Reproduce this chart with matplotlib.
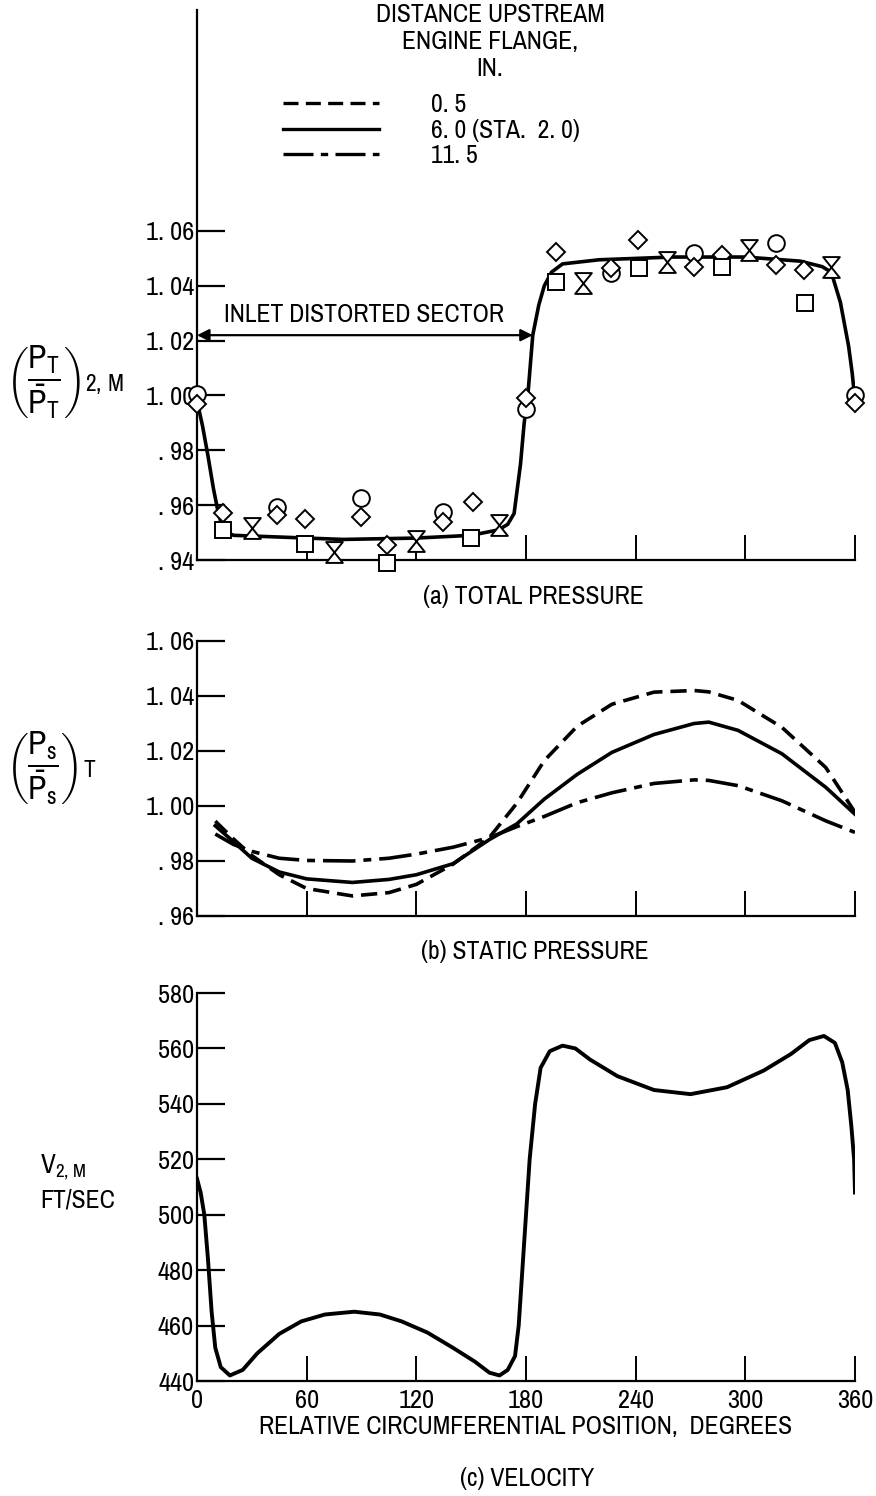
import matplotlib
matplotlib.use('Agg')
import matplotlib.pyplot as plt
from matplotlib.path import Path

plt.rcParams['font.family'] = ['Archivo Narrow', 'Roboto Condensed', 'DejaVu Sans']
plt.rcParams['mathtext.fontset'] = 'custom'
plt.rcParams['mathtext.rm'] = 'Archivo Narrow'
plt.rcParams['mathtext.it'] = 'Archivo Narrow'

# ---- data ----
# (a) total pressure, solid fit curve
a_x = [0, 3, 6, 9, 12, 15, 20, 40, 80, 120, 150, 165, 170, 173.5, 177, 179, 181,
       183.7, 187, 190, 194, 200, 220, 260, 300, 330, 342, 347, 352, 356.5, 358.5, 360]
a_y = [0.998, 0.989, 0.978, 0.966, 0.956, 0.9505, 0.949, 0.9485, 0.9475, 0.948, 0.949,
       0.951, 0.953, 0.957, 0.975, 0.990, 1.000, 1.022, 1.033, 1.040, 1.045, 1.048,
       1.0495, 1.0505, 1.0505, 1.049, 1.047, 1.045, 1.034, 1.018, 1.008, 0.998]

circ_x = [0, 44, 89.5, 134.5, 180, 226.6, 271.7, 317, 360]
circ_y = [1.0005, 0.9593, 0.9626, 0.9575, 0.9950, 1.0447, 1.0520, 1.0556, 1.0002]

diam_x = [0, 14, 44, 59, 89.5, 104, 134.5, 151, 180, 196.5, 226.6, 241.5, 271.7, 287,
          317, 332, 360]
diam_y = [0.997, 0.957, 0.9564, 0.955, 0.9557, 0.9455, 0.954, 0.961, 0.999, 1.0523,
          1.0465, 1.0567, 1.0469, 1.0512, 1.0476, 1.0458, 0.9973]

sq_x = [14, 59, 104, 150, 196.5, 242, 287, 332.6]
sq_y = [0.951, 0.946, 0.939, 0.948, 1.0414, 1.0465, 1.0469, 1.0337]

hg_x = [30, 75, 120, 165, 211, 257, 302, 347]
hg_y = [0.9517, 0.943, 0.947, 0.9528, 1.041, 1.0487, 1.053, 1.0469]

# (b) static pressure, three stations
b_x = [10, 20, 30, 45, 60, 85, 105, 120, 140, 160, 175, 190, 208, 227, 250, 272, 280,
       296, 320, 344, 360]
b_05 = [0.9945, 0.988, 0.982, 0.975, 0.970, 0.9673, 0.9685, 0.9715, 0.9788, 0.9886,
        1.001, 1.0165, 1.029, 1.037, 1.0414, 1.042, 1.0415, 1.0384, 1.0286, 1.014, 0.9977]
b_60 = [0.9928, 0.987, 0.981, 0.976, 0.9735, 0.9722, 0.9733, 0.975, 0.979, 0.9878,
        0.9935, 1.0025, 1.0115, 1.0195, 1.026, 1.0300, 1.0305, 1.0275, 1.019, 1.0068, 0.997]
b_115 = [0.9898, 0.986, 0.9835, 0.981, 0.9802, 0.9800, 0.981, 0.9825, 0.985, 0.9885,
         0.9925, 0.9962, 1.0012, 1.0048, 1.0082, 1.0095, 1.0093, 1.0074, 1.0019, 0.9946,
         0.9904]

# (c) velocity
c_x = [0, 2, 4, 6, 8, 10, 13, 18, 25, 33, 45, 57, 70, 86, 100, 112, 126, 140, 152, 160,
       165.5, 170, 174, 176, 178, 180, 182, 185, 188, 193, 200, 207, 215, 230, 250, 270,
       290, 310, 325, 335, 343, 349, 353, 356, 358, 359.5, 360]
c_v = [513, 508, 500, 484, 465, 452, 445, 442, 444, 450, 457, 461.5, 464, 465, 464,
       461.5, 457.5, 452, 447, 443, 442, 444, 449, 460, 480, 500, 520, 540, 553, 559,
       561, 560, 556, 550, 545, 543.5, 546, 552, 558, 563, 564.5, 562, 555, 545, 532,
       520, 508]

x_ticks = [0, 60, 120, 180, 240, 300, 360]
a_ticks = [0.94, 0.96, 0.98, 1.00, 1.02, 1.04, 1.06]
a_labels = ['. 94', '. 96', '. 98', '1. 00', '1. 02', '1. 04', '1. 06']
b_ticks = [0.96, 0.98, 1.00, 1.02, 1.04, 1.06]
b_labels = ['. 96', '. 98', '1. 00', '1. 02', '1. 04', '1. 06']
c_ticks = [440, 460, 480, 500, 520, 540, 560, 580]

legend_title = ['DISTANCE UPSTREAM', 'ENGINE FLANGE,', 'IN.']
legend_labels = ['0. 5', '6. 0 (STA.  2. 0)', '11. 5']

# ---- styles ----
DASH = (0, (4.5, 2.2))
DASHDOT = (0, (9, 2.2, 2.2, 2.2))
FS = 18.5
TFS = 19

hourglass = Path([(-0.8, 1), (0.8, 1), (-0.8, -1), (0.8, -1), (-0.8, 1)],
                 [Path.MOVETO, Path.LINETO, Path.LINETO, Path.LINETO, Path.CLOSEPOLY])

fig = plt.figure(figsize=(8.76, 14.96), dpi=100)
W, H = 876.0, 1496.0
L, R = 197 / W, 855 / W


def axes_px(top, bottom):
    return fig.add_axes([L, 1 - bottom / H, R - L, (bottom - top) / H])


ax_a = axes_px(10, 560)
ax_b = axes_px(641, 916)
ax_c = axes_px(993, 1381)

for ax in (ax_a, ax_b, ax_c):
    ax.spines['top'].set_visible(False)
    ax.spines['right'].set_visible(False)
    ax.spines['left'].set_linewidth(1.6)
    ax.spines['bottom'].set_linewidth(1.6)
    ax.set_xlim(0, 360)
    ax.set_xticks(x_ticks)
    ax.tick_params(axis='y', direction='in', length=20, width=1.6, pad=2, labelsize=TFS)
    ax.tick_params(axis='x', direction='in', length=18, width=1.4, pad=8, labelsize=TFS)

# (a)
ax_a.set_ylim(0.94, 1.1406)
ax_a.set_yticks(a_ticks)
ax_a.set_yticklabels(a_labels)
ax_a.set_xticklabels([])
ax_a.plot(a_x, a_y, color='black', lw=2.6, zorder=2)
mk = dict(ls='none', mfc='white', mec='black', mew=1.4, zorder=3, clip_on=False)
ax_a.plot(circ_x, circ_y, marker='o', ms=12, **mk)
ax_a.plot(diam_x, diam_y, marker='D', ms=9, **mk)
ax_a.plot(sq_x, sq_y, marker='s', ms=11, **mk)
ax_a.plot(hg_x, hg_y, marker=hourglass, ms=15, **mk)

ax_a.annotate('', xy=(183.7, 1.022), xytext=(0, 1.022),
              arrowprops=dict(arrowstyle='<|-|>', color='black', lw=1.6,
                              mutation_scale=18, shrinkA=0, shrinkB=0))
ax_a.text(15, 1.0255, 'INLET DISTORTED SECTOR', fontsize=FS, ha='left', va='bottom')

# legend: title lines + line samples
for i, line in enumerate(legend_title):
    fig.text(490 / W, 1 - (14 + 27 * i) / H, line, fontsize=FS, ha='center', va='center')
leg_lines = [ax_a.plot([], [], color='black', lw=2.4, ls=st)[0]
             for st in (DASH, '-', DASHDOT)]
ax_a.legend(leg_lines, legend_labels, loc='upper left',
            bbox_to_anchor=((265 - 197) / 658, (560 - 75) / 550), frameon=False,
            fontsize=FS, handlelength=3.75, handletextpad=2.0, labelspacing=0.1,
            borderpad=0.2)

fig.text(533 / W, 1 - 596 / H, '(a) TOTAL PRESSURE', fontsize=FS, ha='center', va='center')

# (b)
ax_b.set_ylim(0.96, 1.06)
ax_b.set_yticks(b_ticks)
ax_b.set_yticklabels(b_labels)
ax_b.set_xticklabels([])
ax_b.plot(b_x, b_05, color='black', lw=2.6, ls=DASH)
ax_b.plot(b_x, b_60, color='black', lw=2.6, ls='-')
ax_b.plot(b_x, b_115, color='black', lw=2.6, ls=DASHDOT)
fig.text(535 / W, 1 - 951 / H, '(b) STATIC PRESSURE', fontsize=FS, ha='center', va='center')

# (c)
ax_c.set_ylim(440, 580)
ax_c.set_yticks(c_ticks)
ax_c.plot(c_x, c_v, color='black', lw=2.8)
ax_c.tick_params(axis='x', pad=6)
ax_c.set_xlabel('RELATIVE CIRCUMFERENTIAL POSITION,  DEGREES', fontsize=FS, labelpad=2)
fig.text(527 / W, 1 - 1478 / H, '(c) VELOCITY', fontsize=FS, ha='center', va='center')

# y axis titles
fig.text(6 / W, 1 - 382 / H,
         r'$\left(\dfrac{\mathrm{P_T}}{\bar{\mathrm{P}}_\mathrm{T}}\right)_{\mathrm{2,\,M}}$',
         fontsize=24, ha='left', va='center')
fig.text(6 / W, 1 - 768 / H,
         r'$\left(\dfrac{\mathrm{P_s}}{\bar{\mathrm{P}}_\mathrm{s}}\right)_{\mathrm{T}}$',
         fontsize=24, ha='left', va='center')
fig.text(40 / W, 1 - 1167 / H, r'V$_{2,\,\mathrm{M}}$', fontsize=FS + 1, ha='left', va='center')
fig.text(40 / W, 1 - 1200 / H, 'FT/SEC', fontsize=FS, ha='left', va='center')

fig.savefig('out.png', dpi=100)
